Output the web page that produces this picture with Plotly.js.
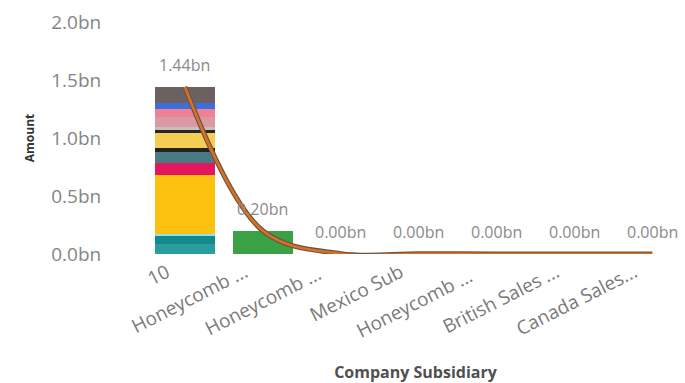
<!DOCTYPE html>
<html>
<head>
<meta charset="utf-8">
<script src="https://cdn.plot.ly/plotly-3.0.1.min.js"></script>
<style>html,body{margin:0;padding:0;background:#fff;}#chart{width:685px;height:383px;}</style>
</head>
<body>
<div id="chart"></div>
<script>
// Categories (x axis)
var categories = ["10", "Honeycomb ...", "Honeycomb ... ", "Mexico Sub", "Honeycomb ...  ", "British Sales ...", "Canada Sales..."];
// Stacked segments of the first column (bn), bottom to top
var segValues = [0.086, 0.069, 0.020, 0.509, 0.099, 0.094, 0.040, 0.123, 0.029, 0.028, 0.086, 0.071, 0.051, 0.135];
var segColors = ["#2a9d9f", "#15888c", "#86e9f0", "#fdc20f", "#e3175e", "#4b7a87", "#222222", "#f4cd55", "#262626", "#cdbcbc", "#d99aa6", "#ee8196", "#3c6fd9", "#6c6161"];
// Second column (bn)
var secondValue = 0.20;
// Column totals / line series (bn)
var totals = [1.44, 0.20, 0.003, 0.002, 0.001, 0.001, 0.0005];
// Y axis ticks
var yTickVals = [0, 0.5, 1.0, 1.5, 2.0];
var yTickText = ["0.0bn", "0.5bn", "1.0bn", "1.5bn", "2.0bn"];

var traces = [];
segValues.forEach(function (v, i) {
  traces.push({
    type: "bar", x: [categories[0]], y: [v],
    marker: { color: segColors[i], line: { width: 0 } },
    hoverinfo: "skip", showlegend: false
  });
});
traces.push({
  type: "bar", x: [categories[1]], y: [secondValue],
  marker: { color: "#3aa245", line: { width: 0 } },
  hoverinfo: "skip", showlegend: false
});
traces.push({
  type: "scatter", mode: "lines", x: categories, y: totals,
  line: { color: "#6a5648", width: 5, shape: "spline", smoothing: 1 },
  hoverinfo: "skip", showlegend: false
});
traces.push({
  type: "scatter", mode: "lines", x: categories, y: totals,
  line: { color: "#e8731c", width: 2.5, shape: "spline", smoothing: 1 },
  opacity: 0.9, hoverinfo: "skip", showlegend: false
});

var annotations = totals.map(function (t, i) {
  return {
    x: i, y: t, xref: "x", yref: "y",
    text: t.toFixed(2) + "bn", showarrow: false, yshift: 22,
    font: { family: "Open Sans, sans-serif", size: 16, color: "#8a8a8a" }
  };
});

var layout = {
  width: 685, height: 383,
  margin: { l: 146, r: 0, t: 22, b: 129 },
  paper_bgcolor: "#ffffff", plot_bgcolor: "#ffffff",
  barmode: "stack", bargap: 0.23,
  font: { family: "Open Sans, sans-serif" },
  xaxis: {
    type: "category", categoryorder: "array", categoryarray: categories,
    range: [-0.5, 6.42],
    showgrid: false, zeroline: false, showline: false,
    tickangle: -27, ticks: "",
    ticklabelshift: -18, ticklabelstandoff: 3,
    tickfont: { family: "Open Sans, sans-serif", size: 19, color: "#7a7a7a" },
    title: { text: "Company Subsidiary", standoff: 26,
      font: { family: "Open Sans, sans-serif", size: 16, color: "#505050", weight: "bold" } }
  },
  yaxis: {
    range: [0, 2.0], tickvals: yTickVals, ticktext: yTickText,
    showgrid: false, zeroline: false, showline: false,
    ticks: "outside", ticklen: 40, tickcolor: "rgba(0,0,0,0)",
    tickfont: { family: "Open Sans, sans-serif", size: 19, color: "#858585" },
    title: { text: "Amount", standoff: 14,
      font: { family: "Open Sans, sans-serif", size: 12, color: "#333333", weight: "bold" } }
  },
  annotations: annotations,
  showlegend: false
};

Plotly.newPlot("chart", traces, layout, { staticPlot: true, displayModeBar: false });
</script>
</body>
</html>
